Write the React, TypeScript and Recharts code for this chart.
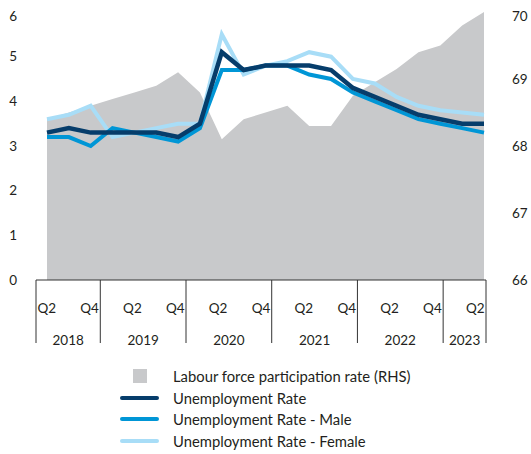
import React from 'react';
import {
  ComposedChart,
  Area,
  Line,
  XAxis,
  YAxis,
  Legend,
} from 'recharts';

const years = ['2018', '2018', '2018', '2019', '2019', '2019', '2019', '2020', '2020', '2020', '2020', '2021', '2021', '2021', '2021', '2022', '2022', '2022', '2022', '2023', '2023'];
const quarters = ['Q2', 'Q3', 'Q4', 'Q1', 'Q2', 'Q3', 'Q4', 'Q1', 'Q2', 'Q3', 'Q4', 'Q1', 'Q2', 'Q3', 'Q4', 'Q1', 'Q2', 'Q3', 'Q4', 'Q1', 'Q2'];

// labour force participation rate, right axis
const participation = [68.4, 68.5, 68.6, 68.7, 68.8, 68.9, 69.1, 68.8, 68.1, 68.4, 68.5, 68.6, 68.3, 68.3, 68.75, 68.95, 69.15, 69.4, 69.5, 69.8, 70.0];
const unemployment = [3.3, 3.4, 3.3, 3.3, 3.3, 3.3, 3.2, 3.5, 5.1, 4.7, 4.8, 4.8, 4.8, 4.7, 4.3, 4.1, 3.9, 3.7, 3.6, 3.5, 3.5];
const unemploymentMale = [3.2, 3.2, 3.0, 3.4, 3.3, 3.2, 3.1, 3.4, 4.7, 4.7, 4.8, 4.8, 4.6, 4.5, 4.2, 4.0, 3.8, 3.6, 3.5, 3.4, 3.3];
const unemploymentFemale = [3.6, 3.7, 3.9, 3.2, 3.3, 3.4, 3.5, 3.5, 5.5, 4.6, 4.8, 4.9, 5.1, 5.0, 4.5, 4.4, 4.1, 3.9, 3.8, 3.75, 3.7];

const leftTicks = [0, 1, 2, 3, 4, 5, 6];
const rightTicks = [66, 67, 68, 69, 70];

const GREY = '#c8c9cb';
const DARK = '#063d6b';
const MID = '#0096d6';
const LIGHT = '#a8ddf7';
const TEXT = '#231f20';

const data = years.map((y, i) => ({
  key: `${y} ${quarters[i]}`,
  lfpr: participation[i],
  total: unemployment[i],
  male: unemploymentMale[i],
  female: unemploymentFemale[i],
}));

const legendItems = [
  { label: 'Labour force participation rate (RHS)', color: GREY, box: true },
  { label: 'Unemployment Rate', color: DARK },
  { label: 'Unemployment Rate - Male', color: MID },
  { label: 'Unemployment Rate - Female', color: LIGHT },
];

function QuarterTick(props: any) {
  const { x, y, payload } = props;
  const i = payload.index;
  const half = payload.offset ?? 10.7;
  const q = quarters[i];
  const yr = years[i];
  const firstOfYear = i === 0 || years[i - 1] !== yr;
  const n = years.filter((v) => v === yr).length;
  return (
    <g>
      {(q === 'Q2' || q === 'Q4') && (
        <text x={x} y={y + 33} textAnchor="middle" fontSize={13.5} fill={TEXT}>
          {q}
        </text>
      )}
      {firstOfYear && (
        <>
          <line x1={x - half} x2={x - half} y1={y} y2={y + 63} stroke="#333" strokeWidth={1} />
          <text x={x + (n - 1) * half} y={y + 65} textAnchor="middle" fontSize={13.5} fill={TEXT}>
            {yr}
          </text>
        </>
      )}
      {i === years.length - 1 && (
        <line x1={x + half} x2={x + half} y1={y} y2={y + 63} stroke="#333" strokeWidth={1} />
      )}
    </g>
  );
}

function LegendBox() {
  return (
    <div style={{ height: 88, paddingLeft: 112 }}>
      {legendItems.map((it) => (
        <div key={it.label} style={{ display: 'flex', alignItems: 'center', height: 21.7 }}>
          <div style={{ width: 39, display: 'flex', justifyContent: 'center' }}>
            {it.box ? (
              <div style={{ width: 14, height: 14, background: it.color }} />
            ) : (
              <div style={{ width: 39, height: 4, borderRadius: 2, background: it.color }} />
            )}
          </div>
          <span style={{ marginLeft: 14, fontSize: 14.8, color: TEXT, whiteSpace: 'nowrap' }}>{it.label}</span>
        </div>
      ))}
    </div>
  );
}

export default function App() {
  return (
    <div style={{ fontFamily: 'Lato, "Noto Sans", sans-serif', padding: '8px 0 0 8px' }}>
      <style>{'body { margin: 0; overflow: hidden; }'}</style>
      <ComposedChart width={523} height={445} data={data} margin={{ top: 4, right: 0, left: 0, bottom: 0 }}>
        <XAxis xAxisId="pt" dataKey="key" scale="point" padding={{ left: 11, right: 2 }} hide />
        <XAxis
          xAxisId="band"
          dataKey="key"
          scale="band"
          height={85}
          interval={0}
          tickLine={false}
          tickSize={0}
          tickMargin={0}
          axisLine={{ stroke: '#333' }}
          tick={<QuarterTick />}
        />
        <YAxis
          yAxisId="lhs"
          domain={[0, 6]}
          ticks={leftTicks}
          width={28}
          axisLine={false}
          tickLine={false}
          tickSize={0}
          tickMargin={19}
          tick={{ fontSize: 13.5, fill: TEXT }}
        />
        <YAxis
          yAxisId="rhs"
          orientation="right"
          domain={[66, 70]}
          ticks={rightTicks}
          width={45}
          axisLine={false}
          tickLine={false}
          tickSize={0}
          tickMargin={26}
          tick={{ fontSize: 13.5, fill: TEXT, textAnchor: 'start' }}
        />
        <Area
          xAxisId="pt"
          yAxisId="rhs"
          type="linear"
          dataKey="lfpr"
          fill={GREY}
          fillOpacity={1}
          stroke="none"
          isAnimationActive={false}
        />
        <Line xAxisId="pt" yAxisId="lhs" type="linear" dataKey="female" stroke={LIGHT} strokeWidth={4} dot={false} isAnimationActive={false} />
        <Line xAxisId="pt" yAxisId="lhs" type="linear" dataKey="male" stroke={MID} strokeWidth={4} dot={false} isAnimationActive={false} />
        <Line xAxisId="pt" yAxisId="lhs" type="linear" dataKey="total" stroke={DARK} strokeWidth={4.5} dot={false} isAnimationActive={false} />
        <Legend verticalAlign="bottom" content={<LegendBox />} />
      </ComposedChart>
    </div>
  );
}
